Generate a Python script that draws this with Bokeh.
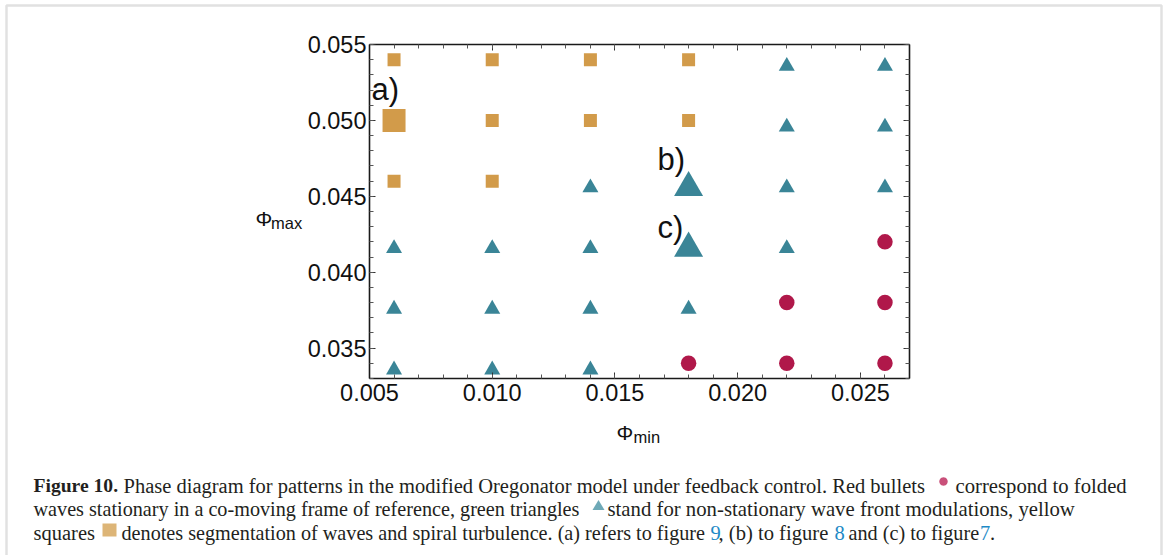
import numpy as np
from bokeh.plotting import figure
from bokeh.models import (Label, PolyAnnotation, BoxAnnotation, LinearAxis, FixedTicker,
                          PrintfTickFormatter, CustomJSTickFormatter, ColumnDataSource, Range1d)
from bokeh.transform import dodge
from bokeh.embed import file_html
from bokeh.resources import INLINE

# ---------------- data ----------------
phi_min_values = [0.006, 0.010, 0.014, 0.018, 0.022, 0.026]
phi_max_values = [0.054, 0.050, 0.046, 0.042, 0.038, 0.034]
# S = segmentation / spiral turbulence (yellow squares)
# T = non-stationary wave front modulations (green triangles)
# C = folded waves stationary in co-moving frame (red bullets)
pattern_grid = [
    ["S", "S", "S", "S", "T", "T"],   # phi_max = 0.054
    ["S", "S", "S", "S", "T", "T"],   # phi_max = 0.050
    ["S", "S", "T", "T", "T", "T"],   # phi_max = 0.046
    ["T", "T", "T", "T", "T", "C"],   # phi_max = 0.042
    ["T", "T", "T", "T", "C", "C"],   # phi_max = 0.038
    ["T", "T", "T", "C", "C", "C"],   # phi_max = 0.034
]
highlight_labels = ["a)", "b)", "c)"]
highlight_phi_min = [0.006, 0.018, 0.018]
highlight_phi_max = [0.050, 0.046, 0.042]

x_ticks = [0.005, 0.010, 0.015, 0.020, 0.025]
y_ticks = [0.035, 0.040, 0.045, 0.050, 0.055]
x_minor = [round(0.005 + 0.001 * i, 3) for i in range(23)]
y_minor = [round(0.033 + 0.001 * i, 3) for i in range(23)]

# ---------------- style / layout ----------------
W, H = 1166, 555
FL, FR, FT, FB = 369, 909, 44, 378          # plot box on the page (px)
X0, X1, Y0, Y1 = 0.005, 0.027, 0.033, 0.055  # plot box in data units
SQ_COL, TRI_COL, CIR_COL = "#D29B4A", "#3A8597", "#B0184A"
SQ_LEG, TRI_LEG, CIR_LEG = "#DDB577", "#6EA9B7", "#C9507A"
LINK = "#1E8AC6"
TXT = "#231F20"

xs_ = (X1 - X0) / (FR - FL)
ys_ = (Y1 - Y0) / (FB - FT)

hl = set(zip(highlight_phi_min, highlight_phi_max))
groups = {k: {"x": [], "y": []} for k in ["S", "T", "C", "S_big", "T_big", "C_big"]}
for yv, row in zip(phi_max_values, pattern_grid):
    for xv, cat in zip(phi_min_values, row):
        key = cat + ("_big" if (xv, yv) in hl else "")
        groups[key]["x"].append(xv)
        groups[key]["y"].append(yv)

# the frame covers the whole page; the plot box is drawn with fixed-location axes
p = figure(width=W, height=H, output_backend="svg", toolbar_location=None,
           x_range=Range1d(X0 - FL * xs_, X0 + (W - FL) * xs_),
           y_range=Range1d(Y1 - (H - FT) * ys_, Y1 + FT * ys_),
           x_axis_type=None, y_axis_type=None,
           min_border=0, min_border_left=0, min_border_right=0, min_border_top=0, min_border_bottom=0)
p.outline_line_color = None
p.background_fill_color = "white"
p.border_fill_color = "white"


def make_axis(major, minor, labels, loc, bounds):
    ax = LinearAxis(ticker=FixedTicker(ticks=major, minor_ticks=minor),
                    fixed_location=loc, bounds=bounds)
    if labels:
        ax.formatter = PrintfTickFormatter(format="%.3f")
        ax.major_label_text_font = "Liberation Sans"
        ax.major_label_text_font_size = "23.5px"
        ax.major_label_text_color = "#111111"
    else:
        ax.formatter = CustomJSTickFormatter(code="return ''")
        ax.major_label_standoff = 0
    ax.axis_line_color = "#1A1A1A"
    ax.axis_line_width = 1.6
    ax.major_tick_in = 6
    ax.major_tick_out = 0
    ax.minor_tick_in = 4
    ax.minor_tick_out = 0
    ax.major_tick_line_color = "#333333"
    ax.minor_tick_line_color = "#555555"
    return ax


bx = make_axis(x_ticks, x_minor, True, Y0, (X0, X1))
bx.major_label_standoff = 5
ly = make_axis(y_ticks, y_minor, True, X0, (Y0, Y1))
ly.major_label_standoff = 3
p.add_layout(bx, "below")
p.add_layout(ly, "left")
p.add_layout(make_axis(x_ticks, x_minor, False, Y1, (X0, X1)), "above")
p.add_layout(make_axis(y_ticks, y_minor, False, X1, (Y0, Y1)), "right")

tri_shift = 6.5 * ys_

p.scatter("x", "y", source=ColumnDataSource(groups["S"]), marker="square", size=13,
          fill_color=SQ_COL, line_color=None)
p.scatter("x", "y", source=ColumnDataSource(groups["S_big"]), marker="square", size=23,
          fill_color=SQ_COL, line_color=None)
p.scatter("x", dodge("y", -tri_shift, range=p.y_range), source=ColumnDataSource(groups["T"]),
          marker="triangle", size=16, fill_color=TRI_COL, line_color=None)
p.scatter("x", dodge("y", -tri_shift, range=p.y_range), source=ColumnDataSource(groups["T_big"]),
          marker="triangle", size=29, fill_color=TRI_COL, line_color=None)
p.scatter("x", "y", source=ColumnDataSource(groups["C"]), marker="circle", size=15.5,
          fill_color=CIR_COL, line_color=None)

# point labels a), b), c)
label_offsets = {"a)": (-22.5, 31), "b)": (-31, 22), "c)": (-31, 14.5)}
for t, xv, yv in zip(highlight_labels, highlight_phi_min, highlight_phi_max):
    dx, dy = label_offsets[t]
    p.add_layout(Label(x=xv, y=yv, x_offset=dx, y_offset=dy, text=t,
                       text_font="Liberation Sans", text_font_size="31px",
                       text_color="#111111", text_baseline="alphabetic", text_align="left"))


# pixel position on the page -> plot coordinates (page furniture only)
def dx_(cx):
    return X0 + (cx - FL) * xs_


def dy_(cy):
    return Y1 - (cy - FT) * ys_


def page_label(cx, cy, text, size, font="Liberation Sans", color="#111111", style="normal"):
    p.add_layout(Label(x=dx_(cx), y=dy_(cy), text=text,
                       text_font=font, text_font_size=size, text_color=color,
                       text_font_style=style, text_baseline="alphabetic", text_align="left"))


# axis titles Phi_max / Phi_min
page_label(255, 218, "Φ", "21px")
page_label(270.5, 222.5, "max", "16.5px")
page_label(616, 432, "Φ", "21px")
page_label(633, 436.5, "min", "16.5px")

# outer frame
p.add_layout(BoxAnnotation(left=dx_(6), right=dx_(1161), top=dy_(5), bottom=dy_(600),
                           fill_color=None, fill_alpha=0, line_color="#9A9A9A", line_width=2.5,
                           editable=False))

# caption
SERIF = "Liberation Serif"
caption_segments = [
    (33, 485, "Figure 10.", TXT, "bold", "19.6px"),
    (123, 485, "Phase diagram for patterns in the modified Oregonator model under feedback control. Red bullets", TXT, "normal", "20.5px"),
    (955, 485, "correspond to folded", TXT, "normal", "20.7px"),
    (33, 508.5, "waves stationary in a co-moving frame of reference, green triangles", TXT, "normal", "20.2px"),
    (607, 508.5, "stand for non-stationary wave front modulations, yellow", TXT, "normal", "20.75px"),
    (33, 532.5, "squares", TXT, "normal", "20.5px"),
    (121, 532.5, "denotes segmentation of waves and spiral turbulence. (a) refers to figure", TXT, "normal", "20.2px"),
    (710, 532.5, "9", LINK, "normal", "20.5px"),
    (718, 532.5, ", (b) to figure", TXT, "normal", "20.6px"),
    (834, 532.5, "8", LINK, "normal", "20.5px"),
    (848, 532.5, "and (c) to figure", TXT, "normal", "20.2px"),
    (979.5, 532.5, "7", LINK, "normal", "20.5px"),
    (989.5, 532.5, ".", TXT, "normal", "20.5px"),
]
for cx, cy, t, col, st, fs in caption_segments:
    page_label(cx, cy, t, fs, font=SERIF, color=col, style=st)

# caption legend markers
ang = np.linspace(0, 2 * np.pi, 24, endpoint=False)
p.add_layout(PolyAnnotation(xs=[dx_(v) for v in 943 + 4.2 * np.cos(ang)],
                            ys=[dy_(v) for v in 481 + 4.2 * np.sin(ang)],
                            fill_color=CIR_LEG, fill_alpha=1, line_color=None))
p.add_layout(PolyAnnotation(xs=[dx_(592), dx_(604), dx_(598)], ys=[dy_(509.5), dy_(509.5), dy_(499.5)],
                            fill_color=TRI_LEG, fill_alpha=1, line_color=None))
p.add_layout(PolyAnnotation(xs=[dx_(102), dx_(116), dx_(116), dx_(102)],
                            ys=[dy_(536), dy_(536), dy_(523), dy_(523)],
                            fill_color=SQ_LEG, fill_alpha=1, line_color=None))

open("out.html", "w").write(file_html(p, INLINE))
